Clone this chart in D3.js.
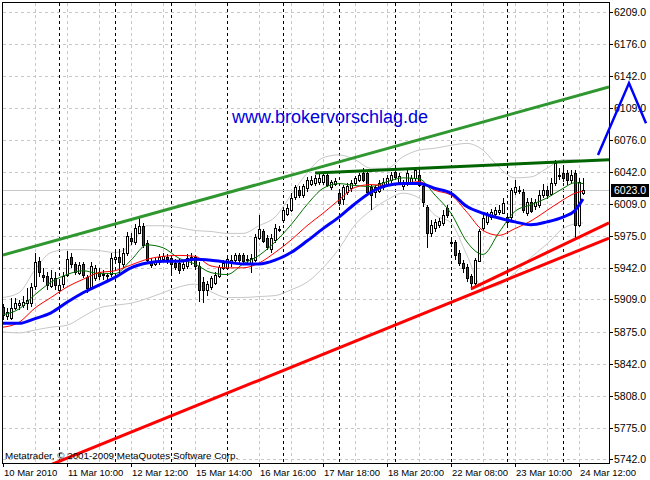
<!DOCTYPE html>
<html><head><meta charset="utf-8">
<script src="https://cdn.jsdelivr.net/npm/d3@7/dist/d3.min.js"></script>
<style>body{margin:0;background:#fff}svg{display:block}</style>
</head><body>
<svg id="chart" width="650" height="480"></svg>
<script>
// ---- hourly OHLC (DAX, 10 Mar 2010 08:00 .. 24 Mar 2010 13:00) ----
const openP  = [5901,5892,5890,5900,5903,5903,5905,5905,5923,5949,5935,5933,5923,5931,5919,5925,5934,5953,5946,5937,5946,5932,5922,5932,5938,5935,5934,5935,5951,5953,5946,5957,5973,5969,5979,5986,5968,5948,5946,5948,5951,5953,5952,5947,5947,5942,5944,5950,5953,5944,5927,5919,5922,5927,5934,5942,5942,5948,5950,5955,5955,5951,5947,5950,5974,5981,5973,5961,5971,5983,5992,5999,6002,6016,6023,6018,6026,6030,6031,6032,6032,6039,6027,6030,6020,6013,6021,6026,6031,6034,6041,6041,6026,6021,6023,6027,6029,6034,6042,6032,6028,6031,6032,6036,6039,6027,6006,5979,5984,5987,5989,6004,5969,5969,5957,5947,5943,5933,5926,5950,5984,5990,5995,5998,6000,6000,5995,5995,6021,6023,6021,5999,6011,6007,6008,6018,6023,6020,6031,6039,6041,6041,6034,6041,5987,6020];
const highP  = [5904,5900,5911,5911,5908,5913,5921,5926,5957,5953,5942,5938,5940,5938,5928,5938,5960,5958,5948,5948,5948,5935,5948,5945,5942,5940,5937,5958,5960,5962,5963,5979,5978,5988,5995,5989,5971,5952,5952,5956,5957,5956,5955,5951,5951,5950,5956,5958,5955,5948,5932,5928,5933,5938,5945,5950,5955,5955,5958,5958,5958,5955,5956,5977,5997,5983,5976,5977,5988,5986,6005,6009,6020,6029,6027,6030,6037,6038,6039,6040,6042,6042,6034,6036,6023,6029,6031,6034,6038,6041,6046,6042,6029,6029,6034,6036,6039,6042,6044,6041,6034,6044,6039,6047,6046,6029,6008,5992,5993,5994,6002,6008,5973,5971,5961,5950,5946,5936,5952,5983,5997,6000,6003,6006,6008,6015,5998,6025,6034,6027,6024,6015,6015,6014,6023,6030,6027,6036,6055,6046,6049,6044,6044,6044,6036,6036];
const lowP   = [5887,5887,5887,5898,5898,5900,5898,5901,5919,5932,5927,5919,5921,5919,5916,5921,5932,5942,5934,5934,5931,5916,5919,5928,5929,5929,5927,5932,5948,5936,5942,5954,5966,5966,5977,5963,5947,5942,5944,5945,5948,5946,5937,5940,5936,5939,5941,5945,5940,5906,5905,5913,5919,5924,5931,5940,5940,5943,5947,5947,5945,5947,5937,5948,5971,5968,5961,5958,5968,5979,5989,5996,6000,6013,6015,6015,6021,6028,6028,6029,6029,6026,6023,6027,6007,6008,6018,6021,6028,6032,6032,6017,6002,6015,6020,6023,6026,6031,6034,6029,6023,6028,6029,6033,6026,6006,5963,5974,5979,5984,5986,5994,5964,5950,5944,5937,5927,5919,5922,5948,5981,5987,5992,5995,5997,5998,5987,5992,6018,6019,5999,5996,5999,6002,6005,6015,6014,6017,6028,6034,6032,6029,6031,5973,5985,6018];
const closeP = [5893,5896,5900,5905,5905,5906,5908,5922,5948,5938,5933,5924,5931,5924,5924,5933,5951,5946,5938,5945,5934,5921,5944,5942,5934,5936,5933,5952,5953,5948,5957,5975,5970,5984,5986,5966,5950,5945,5948,5953,5954,5951,5946,5943,5940,5946,5952,5953,5944,5919,5919,5925,5931,5935,5943,5947,5951,5950,5955,5950,5949,5950,5952,5974,5983,5971,5964,5973,5984,5983,6002,6005,6015,6026,6018,6027,6034,6034,6036,6036,6039,6029,6032,6033,6010,6026,6027,6031,6036,6039,6034,6021,6018,6026,6031,6032,6036,6039,6037,6038,6031,6041,6036,6044,6029,6010,5979,5987,5990,5991,5997,5997,5968,5955,5947,5942,5932,5926,5950,5981,5994,5997,6000,6002,6002,6010,5990,6023,6026,6023,6002,6011,6002,6011,6018,6023,6018,6031,6052,6039,6036,6034,6039,5987,6032,6023];

// ---- indicator values read at sample bars ----
const maIdx   = [0,4,8,12,16,20,24,28,32,36,40,44,48,52,56,60,64,68,72,76,80,84,88,92,96,100,104,108,112,116,120,124,128,132,136,140,143,145];
const maFast  = [5893,5899,5914,5927,5935,5939,5936,5936,5950,5966,5963,5952,5946,5937,5935,5946,5955,5969,5987,6008,6025,6030,6028,6027,6032,6036,6035,6018,5999,5969,5956,5979,6001,6008,6015,6025,6031,6030];
const maMid   = [5880,5885,5900,5911,5922,5930,5937,5939,5945,5951,5954,5955,5954,5944,5942,5942,5947,5958,5971,5986,5999,6013,6026,6029,6028,6030,6032,6023,6018,6000,5981,5976,5983,5991,6002,6013,6020,6022];
const maSlow  = [5884,5884,5889,5895,5906,5916,5924,5932,5942,5947,5949,5949,5951,5950,5948,5946,5946,5950,5958,5970,5983,5995,6009,6021,6028,6030,6030,6025,6020,6006,5999,5994,5990,5987,5990,5995,6002,6014];
const bandUp  = [5911,5916,5940,5958,5961,5961,5960,5958,5966,5986,5986,5984,5981,5980,5978,5978,5986,5995,6018,6041,6057,6060,6055,6046,6046,6058,6065,6067,6070,6072,6065,6047,6036,6037,6046,6055,6055,6053];
const bandLow = [5875,5874,5877,5880,5882,5891,5900,5903,5905,5910,5916,5922,5925,5917,5911,5911,5912,5913,5919,5927,5942,5962,5987,6002,6013,6020,6015,5997,5989,5955,5921,5924,5937,5953,5967,5983,5988,5989];

// ---- drawn objects (bar index, price) ----
const trendGreenUp   = [[0,5955.4],[151.5,6130.9]];
const trendGreenFlat = [[78,6041],[151.5,6055]];
const trendRedLong   = [[0,5716],[151.5,5973]];
const trendRedShort  = [[117,5920],[151.5,5989]];
const arrowPath      = [[148.75,6060],[156.5,6135],[160.75,6093]];
const lastPrice = 6023.0;

// ---- axes ----
const yTickValues = [5742,5775,5808,5842,5875,5909,5942,5975,6009,6042,6076,6109,6142,6176,6209];
const yTickLabels = ["5742.0","5775.0","5808.0","5842.0","5875.0","5909.0","5942.0","5975.0","6009.0","6042.0","6076.0","6109.0","6142.0","6176.0","6209.0"];
const xLabelIdx = [0,16,32,48,64,80,96,112,128,144];
const xLabels = ["10 Mar 2010","11 Mar 10:00","12 Mar 12:00","15 Mar 14:00","16 Mar 16:00","17 Mar 18:00","18 Mar 20:00","22 Mar 08:00","23 Mar 10:00","24 Mar 12:00"];
const gridIdx = [8,16,24,32,40,48,56,64,72,80,88,96,104,112,120,128,136,144];
const dayStartIdx = [14,28,42,56,70,84,98,112,126,140];

const svg = d3.select('#chart');
const L = 3, R = 609, T = 3, B = 463;
const x = d3.scaleLinear().domain([0,151.5]).range([L,R]);
const y = d3.scaleLinear().domain([5738.1,6218.7]).range([B,T]);
const FONT = '"Liberation Sans", Arial, sans-serif';

svg.append('rect').attr('width',650).attr('height',480).attr('fill','#fff');
svg.append('clipPath').attr('id','clip').append('rect')
  .attr('x',L).attr('y',T).attr('width',R-L).attr('height',B-T);

const grid = svg.append('g').attr('shape-rendering','crispEdges');
grid.selectAll('.hg').data(yTickValues).join('line')
  .attr('x1',L).attr('x2',R)
  .attr('y1',d=>Math.round(y(d))+0.5).attr('y2',d=>Math.round(y(d))+0.5)
  .attr('stroke','#c8c8c8').attr('stroke-dasharray','3,3');
grid.selectAll('.vg').data(gridIdx).join('line')
  .attr('x1',d=>Math.round(x(d))+0.5).attr('x2',d=>Math.round(x(d))+0.5)
  .attr('y1',T).attr('y2',B)
  .attr('stroke','#c8c8c8').attr('stroke-dasharray','3,3');
grid.selectAll('.sep').data(dayStartIdx).join('line')
  .attr('x1',d=>Math.round(x(d))+0.5).attr('x2',d=>Math.round(x(d))+0.5)
  .attr('y1',T).attr('y2',B)
  .attr('stroke','#000').attr('stroke-dasharray','3,3');

const plot = svg.append('g').attr('clip-path','url(#clip)');

// current price line
plot.append('line').attr('x1',L).attr('x2',R)
  .attr('y1',Math.round(y(lastPrice))+0.5).attr('y2',Math.round(y(lastPrice))+0.5)
  .attr('stroke','#c8c8c8').attr('shape-rendering','crispEdges');

const line = d3.line().x(d=>x(d[0])).y(d=>y(d[1])).curve(d3.curveMonotoneX);
const series = arr => maIdx.map((k,j)=>[k,arr[j]]);

plot.append('path').attr('d',line(series(bandUp))).attr('fill','none').attr('stroke','#c8c8c8').attr('stroke-width',1);
plot.append('path').attr('d',line(series(bandLow))).attr('fill','none').attr('stroke','#c8c8c8').attr('stroke-width',1);

// candles
const bars = openP.map((o,i)=>({i,o,h:highP[i],l:lowP[i],c:closeP[i]}));
const cg = plot.append('g').attr('shape-rendering','crispEdges');
cg.selectAll('line').data(bars).join('line')
  .attr('x1',d=>Math.round(x(d.i))+0.5).attr('x2',d=>Math.round(x(d.i))+0.5)
  .attr('y1',d=>y(d.h)).attr('y2',d=>y(d.l)).attr('stroke','#000');
cg.selectAll('rect').data(bars).join('rect')
  .attr('x',d=>Math.round(x(d.i))-0.5).attr('width',2)
  .attr('y',d=>Math.round(y(Math.max(d.o,d.c)))+0.5)
  .attr('height',d=>Math.max(1,Math.round(Math.abs(y(d.o)-y(d.c)))))
  .attr('fill',d=>d.c>=d.o?'#fff':'#e00000').attr('stroke','#000');

plot.append('path').attr('d',line(series(maFast))).attr('fill','none').attr('stroke','#007000').attr('stroke-width',1);
plot.append('path').attr('d',line(series(maMid))).attr('fill','none').attr('stroke','#ff0000').attr('stroke-width',1);
plot.append('path').attr('d',line(series(maSlow))).attr('fill','none').attr('stroke','#0000ff').attr('stroke-width',3);

const straight = d3.line().x(d=>x(d[0])).y(d=>y(d[1]));
plot.append('path').attr('d',straight(trendGreenUp)).attr('stroke','#2f972f').attr('stroke-width',3).attr('fill','none');
plot.append('path').attr('d',straight(trendGreenFlat)).attr('stroke','#006400').attr('stroke-width',3).attr('fill','none');
plot.append('path').attr('d',straight(trendRedLong)).attr('stroke','#ff0000').attr('stroke-width',3).attr('fill','none');
plot.append('path').attr('d',straight(trendRedShort)).attr('stroke','#ff0000').attr('stroke-width',3).attr('fill','none');

// frame
svg.append('rect').attr('x',L-0.5).attr('y',T-0.5).attr('width',R-L+1).attr('height',B-T+0.5)
  .attr('fill','none').attr('stroke','#000').attr('shape-rendering','crispEdges');

// right axis
const ya = svg.append('g');
ya.selectAll('line').data(yTickValues).join('line')
  .attr('x1',R).attr('x2',R+4)
  .attr('y1',d=>Math.round(y(d))+0.5).attr('y2',d=>Math.round(y(d))+0.5)
  .attr('stroke','#000').attr('shape-rendering','crispEdges');
ya.selectAll('text').data(yTickValues).join('text')
  .attr('x',R+5).attr('y',d=>y(d)+4)
  .attr('font-family',FONT).attr('font-size',10.5).attr('fill','#000')
  .text((d,i)=>yTickLabels[i]);

// bottom axis
const xa = svg.append('g');
xa.selectAll('line').data(xLabelIdx).join('line')
  .attr('x1',d=>Math.round(x(d))+0.5).attr('x2',d=>Math.round(x(d))+0.5)
  .attr('y1',B).attr('y2',B+4)
  .attr('stroke','#000').attr('shape-rendering','crispEdges');
xa.selectAll('text').data(xLabelIdx).join('text')
  .attr('x',d=>x(d)+1).attr('y',B+13)
  .attr('font-family',FONT).attr('font-size',9.5).attr('fill','#000')
  .text((d,i)=>xLabels[i]);

// last price tag
const ty = y(lastPrice);
svg.append('rect').attr('x',R+2).attr('y',Math.round(ty)-6).attr('width',38).attr('height',13).attr('fill','#000');
svg.append('text').attr('x',R+5).attr('y',ty+4).attr('font-family',FONT).attr('font-size',10.5)
  .attr('fill','#fff').text(lastPrice.toFixed(1));

// projection arrow (drawn object, not clipped)
svg.append('path').attr('d',straight(arrowPath)).attr('stroke','#0000ff').attr('stroke-width',2.5).attr('fill','none');

// texts
svg.append('text').attr('x',232).attr('y',123).attr('font-family',FONT).attr('font-size',18)
  .attr('fill','#0000dd').text('www.brokervorschlag.de');
svg.append('text').attr('x',5).attr('y',459).attr('font-family',FONT).attr('font-size',9.8)
  .attr('fill','#000').text('Metatrader, \u00A9 2001-2009 MetaQuotes Software Corp.');
</script>
</body></html>
